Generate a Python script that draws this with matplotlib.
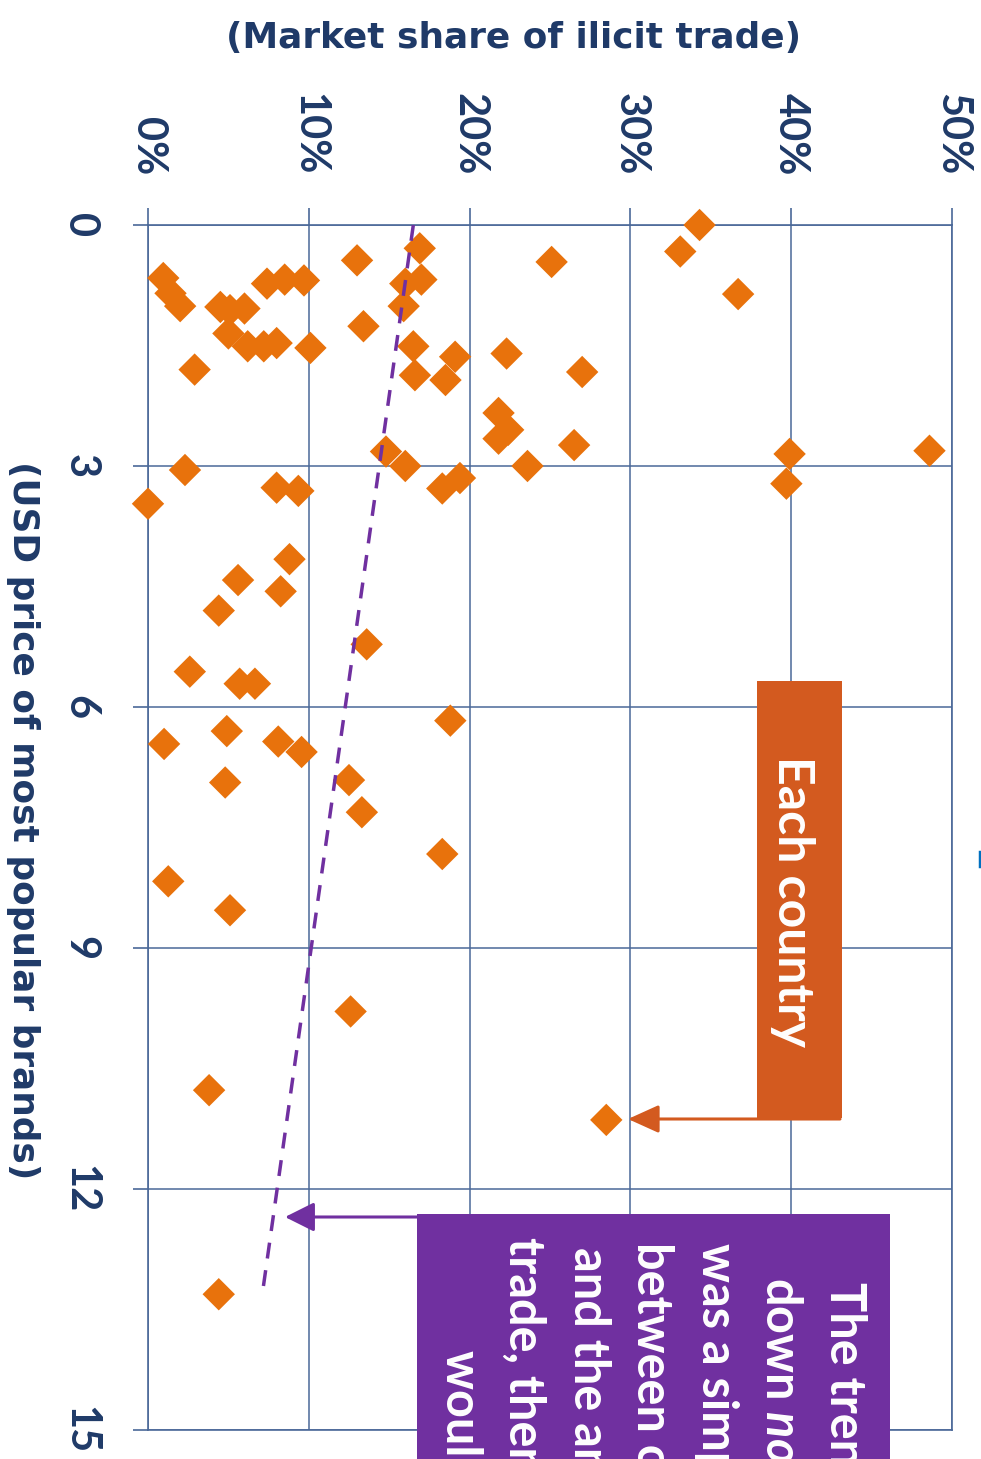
import matplotlib
matplotlib.use("Agg")
import matplotlib.pyplot as plt
from matplotlib.patches import Rectangle, FancyArrowPatch
from matplotlib.lines import Line2D

plt.rcParams['font.family'] = ['Lato', 'DejaVu Sans']
plt.rcParams['mathtext.fontset'] = 'custom'
plt.rcParams['mathtext.rm'] = 'Lato:bold'
plt.rcParams['mathtext.it'] = 'Lato:italic:bold'
plt.rcParams['mathtext.bf'] = 'Lato:bold'

# ---------------- data ----------------
price = [0.00, 0.33, 0.86, 0.46, 0.29, 0.68, 0.73, 1.01, 0.44, 1.26,
         0.66, 0.85, 1.01, 1.02, 1.06, 1.04, 0.73, 0.68, 0.69, 1.35,
         1.51, 1.51, 1.47, 1.53, 1.80, 1.51, 1.87, 1.93, 1.64, 1.60,
         1.83, 2.34, 2.55, 2.66, 2.74, 2.85, 3.22, 2.81, 2.82, 3.00,
         3.28, 3.15, 3.00, 3.05, 3.47, 3.27, 3.31, 4.16, 4.42, 4.56,
         4.80, 5.22, 5.56, 5.71, 5.71, 6.17, 6.46, 6.30, 6.43, 6.56,
         6.94, 6.91, 7.31, 7.83, 8.17, 8.53, 9.79, 10.77, 11.14, 13.31]
share = [34.3, 33.1, 36.7, 25.1, 16.9, 17.0, 16.0, 15.9, 13.0, 13.4,
         0.95, 1.4, 2.0, 4.5, 5.1, 6.0, 7.4, 8.5, 9.7, 5.0,
         6.2, 7.2, 8.0, 10.1, 2.9, 16.5, 16.6, 18.5, 19.1, 22.3,
         27.0, 21.8, 22.4, 21.8, 26.5, 39.9, 39.7, 48.6, 14.8, 16.0,
         18.3, 19.4, 23.6, 2.3, 0.0, 8.0, 9.35, 8.8, 5.6, 8.25,
         4.4, 13.6, 2.6, 5.7, 6.65, 18.8, 1.0, 4.9, 8.1, 9.55,
         4.8, 12.5, 13.3, 18.3, 1.26, 5.1, 12.6, 3.8, 28.5, 4.4]
trend_price = [0.0, 13.32]
trend_share = [16.5, 7.1]

share_ticks = [0, 10, 20, 30, 40, 50]
share_labels = ['0%', '10%', '20%', '30%', '40%', '50%']
price_ticks = [0, 3, 6, 9, 12, 15]
price_labels = ['0', '3', '6', '9', '12', '15']

x_title = '(Market share of ilicit trade)'
y_title = '(USD price of most popular brands)'
callout1 = 'Each country'
callout2_lines = ['The trend line slopes',
                  r'down $\mathit{not}$ up. If there',
                  'was a simple relationship',
                  'between cigarette prices',
                  'and the amount of illicit',
                  'trade, then the trend line',
                  'would slope up.']

# ---------------- style ----------------
navy = '#1F3A68'
gridc = '#4A6898'
marker_c = '#E8720C'
orange_box = '#D35A1F'
purple = '#7030A0'

W, H = 981, 1459
def fx(x): return x / W
def fy(y): return 1 - y / H

fig = plt.figure(figsize=(W / 100, H / 100), dpi=100)
ax = fig.add_axes([fx(148), fy(1430), (952 - 148) / W, (1430 - 225) / H])
ax.set_xlim(0, 50)
ax.set_ylim(15, 0)

ax.scatter(share, price, marker='D', s=16.5 ** 2, c=marker_c,
           edgecolors='none', zorder=3, clip_on=False)
ax.plot(trend_share, trend_price, color=purple, lw=2.5,
        dashes=(4.6, 3.4), zorder=4)

ax.set_xticks(share_ticks)
ax.set_xticklabels(share_labels, rotation=-90, ha='center', va='bottom',
                   fontsize=30, fontweight='bold', color=navy)
ax.set_yticks(price_ticks)
ax.set_yticklabels(price_labels, rotation=-90, ha='right', va='center',
                   fontsize=30, fontweight='bold', color=navy)
ax.xaxis.tick_top()
ax.tick_params(axis='x', length=12, width=1.2, color=gridc, pad=24)
ax.tick_params(axis='y', length=11, width=1.2, color=gridc, pad=24)
ax.grid(True, color=gridc, lw=1.1)
ax.set_axisbelow(True)
for sp in ax.spines.values():
    sp.set_color(gridc)
    sp.set_linewidth(1.2)

# axis titles
fig.text(fx(514), fy(38), x_title, ha='center', va='center', fontsize=25.8,
         fontweight='bold', color=navy, family=['DejaVu Sans'])
fig.text(fx(23), fy(820), y_title, ha='center', va='center', fontsize=25.8,
         fontweight='bold', color=navy, rotation=-90, family=['DejaVu Sans'])

# orange callout
fig.add_artist(Rectangle((fx(757), fy(1118)), (842 - 757) / W, (1118 - 681) / H,
                         transform=fig.transFigure, facecolor=orange_box,
                         edgecolor='none', zorder=5))
fig.text(fx(793), fy(902), callout1, rotation=-90, ha='center', va='center',
         color='white', fontsize=36, fontweight='bold', zorder=6)
fig.add_artist(FancyArrowPatch((fx(840), fy(1119)), (fx(628), fy(1119)),
                               transform=fig.transFigure,
                               arrowstyle='-|>,head_length=19,head_width=8.6',
                               mutation_scale=1, shrinkA=0, shrinkB=0,
                               color=orange_box, lw=2.2, zorder=6))

# purple callout
fig.add_artist(Rectangle((fx(417), fy(1475)), (890 - 417) / W, (1475 - 1214) / H,
                         transform=fig.transFigure, facecolor=purple,
                         edgecolor='none', zorder=5))
fig.add_artist(FancyArrowPatch((fx(420), fy(1217)), (fx(285), fy(1217)),
                               transform=fig.transFigure,
                               arrowstyle='-|>,head_length=18,head_width=9',
                               mutation_scale=1, shrinkA=0, shrinkB=0,
                               color=purple, lw=2.2, zorder=6))
line_x = [829.6, 765.6, 701.6, 637.6, 573.6, 509.6, 445.6]
line_y = [1282, 1277, 1243, 1242, 1247, 1237, 1350]
for t, lx, ly in zip(callout2_lines, line_x, line_y):
    fig.text(fx(lx), fy(ly), t, rotation=-90, rotation_mode='anchor',
             ha='left', va='baseline', color='white', fontsize=35,
             fontweight='bold', zorder=7)

# small clipped mark at right edge
fig.add_artist(Line2D([fx(980), fx(980)], [fy(852), fy(866)],
                      transform=fig.transFigure, color='#0070C0', lw=2.5))

fig.savefig('out.png', dpi=100)
